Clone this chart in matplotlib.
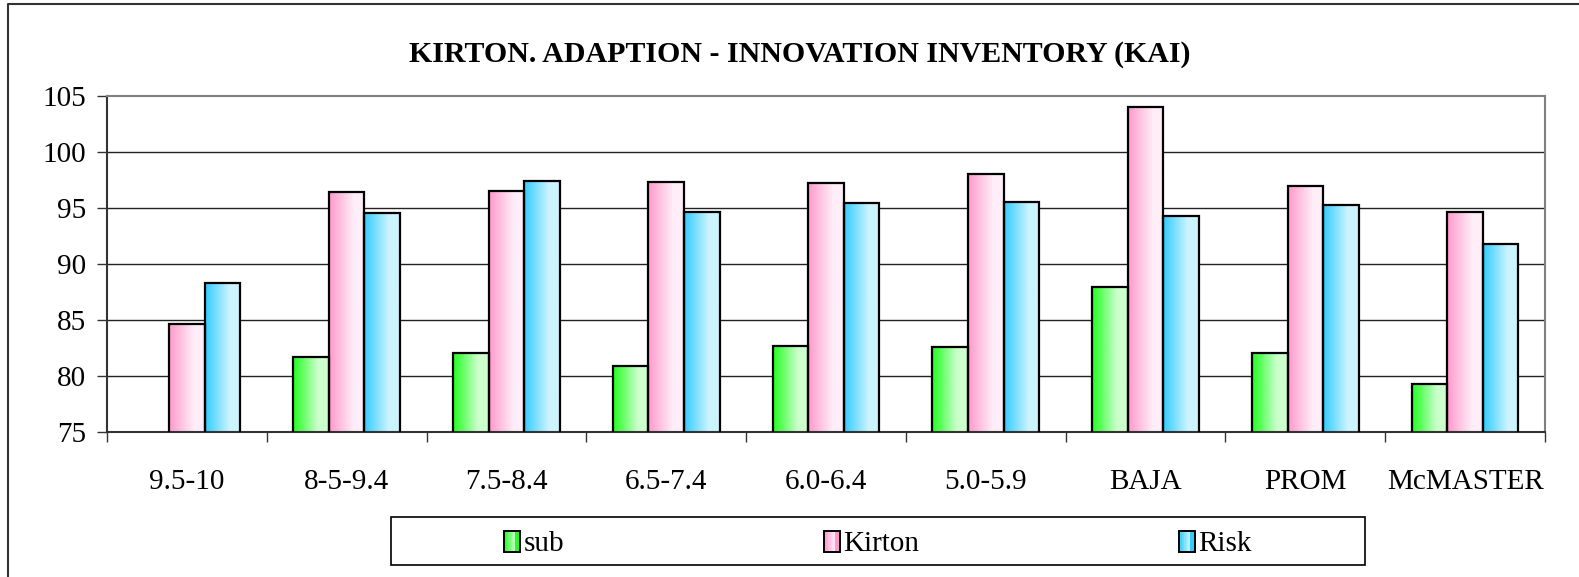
import numpy as np
import matplotlib
matplotlib.use('Agg')
from matplotlib import pyplot as plt
from matplotlib.colors import LinearSegmentedColormap
from matplotlib.patches import Rectangle
from matplotlib.legend_handler import HandlerBase
from matplotlib.lines import Line2D

categories = ['9.5-10', '8-5-9.4', '7.5-8.4', '6.5-7.4', '6.0-6.4', '5.0-5.9', 'BAJA', 'PROM', 'McMASTER']
sub = [np.nan, 81.7, 82.0, 80.9, 82.7, 82.6, 87.9, 82.0, 79.3]
kirton = [84.6, 96.4, 96.5, 97.3, 97.2, 98.0, 104.0, 97.0, 94.6]
risk = [88.3, 94.5, 97.4, 94.6, 95.4, 95.5, 94.3, 95.3, 91.8]
series_names = ['sub', 'Kirton', 'Risk']
dark = ['#22ff22', '#ff99cc', '#33ccff']
light = ['#ccffcc', '#ffeef8', '#ccf4ff']

plt.rcParams['font.family'] = ['Liberation Serif', 'DejaVu Serif']

W, H = 1579, 577
fig = plt.figure(figsize=(W/100, H/100), dpi=100)
ax = fig.add_axes([107/W, 1-431.7/H, (1545-107)/W, (431.7-96)/H])

ramp = np.clip(np.linspace(0, 1, 64)/0.7, 0, 1).reshape(1, -1)
x = np.arange(len(categories))
w = 0.667/3
cmaps = []
for i, vals in enumerate([sub, kirton, risk]):
    cmap = LinearSegmentedColormap.from_list(series_names[i], [dark[i], light[i]])
    cmaps.append(cmap)
    bars = ax.bar(x + (i-1)*w, vals, w, facecolor='none', edgecolor='black',
                  linewidth=1.6, zorder=3)
    for b in bars:
        if np.isnan(b.get_height()):
            continue
        x0 = b.get_x()
        ax.imshow(ramp, cmap=cmap, aspect='auto', interpolation='bilinear',
                  extent=[x0, x0+w, 0, b.get_height()], zorder=2)

ax.set_xlim(-0.5, len(categories)-0.5)
ax.set_ylim(75, 105)
ax.set_yticks(np.arange(75, 106, 5))
ax.set_xticks(np.arange(len(categories)+1)-0.5, labels=[])
ax.set_xticks(x, labels=categories, minor=True)
ax.tick_params(axis='x', which='major', length=7, width=1, color='#333', direction='out')
ax.tick_params(axis='x', which='minor', length=0, pad=27, labelsize=21)
ax.tick_params(axis='y', length=7, width=1, color='#333', pad=8, labelsize=21)
for yv in range(80, 105, 5):
    ax.axhline(yv, color='#222', lw=1, zorder=1)
for s in ['top', 'right']:
    ax.spines[s].set_color('#808080')
    ax.spines[s].set_linewidth(1.5)
for s in ['left', 'bottom']:
    ax.spines[s].set_color('#333')
    ax.spines[s].set_linewidth(1.5)

fig.text(800/W, 1-55/H, 'KIRTON. ADAPTION - INNOVATION INVENTORY (KAI)',
         ha='center', va='center', fontsize=21.5, fontweight='bold')


class GradHandler(HandlerBase):
    def __init__(self, cmap):
        super().__init__()
        self.cmap = cmap

    def create_artists(self, legend, orig_handle, xdescent, ydescent, width, height, fontsize, trans):
        n = 12
        arts = []
        for k in range(n):
            f = min(k/(n-1)/0.7, 1)
            arts.append(Rectangle((-xdescent + k*width/n, -ydescent), width/n, height,
                                  facecolor=self.cmap(f), edgecolor='none', transform=trans))
        arts.append(Rectangle((-xdescent, -ydescent), width, height, fill=False,
                              edgecolor='black', lw=1.4, transform=trans))
        return arts


handles = [Rectangle((0, 0), 1, 1) for _ in series_names]
fig.legend(handles, series_names, handler_map={h: GradHandler(c) for h, c in zip(handles, cmaps)},
           loc='center', bbox_to_anchor=(878/W, 1-544/H), ncol=3, frameon=False, fontsize=21,
           columnspacing=8.9, handlelength=0.55, handleheight=0.75, handletextpad=0.12)
fig.add_artist(Rectangle((391/W, 1-565/H), (1365-391)/W, 48/H, transform=fig.transFigure,
                         fill=False, edgecolor='black', lw=1.2))
fig.add_artist(Line2D([8/W, 8/W, 1], [0, 1-4/H, 1-4/H], transform=fig.transFigure,
                      color='#333', lw=1.5))

fig.savefig('out.png', dpi=100)
